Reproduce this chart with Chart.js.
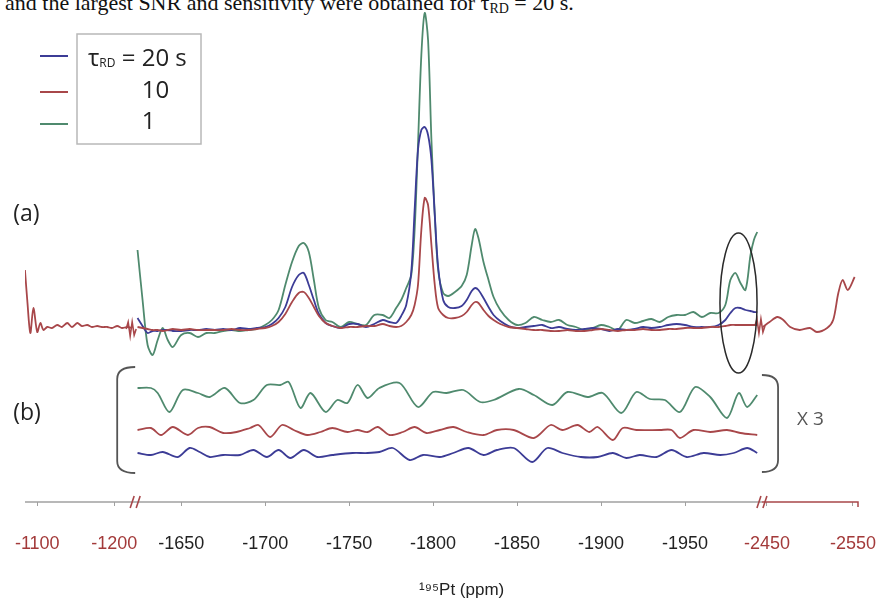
<!DOCTYPE html>
<html>
<head>
<meta charset="utf-8">
<script src="https://cdn.jsdelivr.net/npm/chart.js@4"></script>
<style>
  body { margin: 0; background: #fff; }
  #wrap { position: relative; width: 878px; height: 602px; overflow: hidden; }
  #cap { position: absolute; left: 5px; top: -8px; font: 22px "Liberation Serif", serif; color: #111; white-space: nowrap; line-height: 22px; }
  #cap sub { font-size: 14px; vertical-align: -3px; line-height: 0; }
  canvas { position: absolute; left: 0; top: 0; }
</style>
</head>
<body>
<div id="wrap">
  <div id="cap">and the largest SNR and sensitivity were obtained for τ<sub>RD</sub> = 20 s.</div>
  <canvas id="myChart" width="878" height="602"></canvas>
</div>
<script>
// legend labels (relaxation delay)
const seriesLabels = ['τRD = 20 s', '10', '1'];
const seriesColors = ['#3c3c96', '#a8474a', '#4f8a6e'];

// x tick labels, ppm (outer ones belong to the broken-off segments)
const tickPpm = [-1100, -1200, -1650, -1700, -1750, -1800, -1850, -1900, -1950, -2450, -2550];

// (a) spectra, main window
const ppmA = [-1624, -1627, -1630, -1633, -1636, -1639, -1642, -1645, -1650, -1655,
  -1660, -1665, -1670, -1675, -1680, -1685, -1690, -1695, -1700, -1704,
  -1708, -1712, -1716, -1720, -1723, -1726, -1729, -1732, -1736, -1740,
  -1745, -1750, -1755, -1760, -1765, -1770, -1774, -1778, -1781, -1784,
  -1787, -1789, -1791, -1793, -1795, -1797, -1799, -1801, -1803, -1806,
  -1809, -1813, -1817, -1820, -1823, -1825, -1827, -1830, -1833, -1836,
  -1840, -1845, -1850, -1855, -1860, -1865, -1870, -1875, -1880, -1885,
  -1890, -1895, -1900, -1905, -1910, -1915, -1920, -1925, -1930, -1935,
  -1940, -1945, -1950, -1955, -1960, -1965, -1970, -1974, -1977, -1980,
  -1983, -1986, -1989, -1991, -1993];
const blueA = [12, 4, -3, -1, -1, 0, 0, -1, -1, 0,
  0, 1, 0, 1, 0, 2, 1, 2, 3, 6,
  12, 23, 43, 55, 57, 45, 30, 16, 7, 4,
  2, 6, 6, 3, 6, 10, 8, 7, 14, 25,
  58, 120, 180, 200, 203, 195, 170, 115, 63, 30,
  23, 22, 24, 30, 39, 42, 40, 32, 23, 15,
  9, 4, 2, 3, 4, 5, 2, 3, 1, 0,
  1, 2, 1, -1, 1, 0, 1, 3, 2, 3,
  5, 6, 5, 3, 3, 3, 5, 10, 17, 22,
  22, 20, 19, 18, 18];
const redA = [3, 2, 1, 0, 0, -1, 0, 1, 0, 1,
  0, 0, 0, 0, 1, 0, 0, 1, 2, 4,
  8, 16, 28, 37, 38, 32, 23, 14, 7, 4,
  2, 3, 3, 4, 4, 6, 4, 3, 4, 8,
  15, 25, 45, 100, 132, 125, 85, 45, 22, 15,
  12, 12, 14, 18, 25, 28, 27, 20, 14, 10,
  6, 3, 2, 1, 0, 0, -1, -1, 0, -1,
  -1, 0, 1, 0, -1, 0, 0, 1, 0, 0,
  1, 1, 2, 2, 2, 3, 3, 4, 5, 5,
  5, 5, 5, 5, 5];
const greenA = [80, 30, -15, -25, -10, 2, -10, -17, -5, -3,
  -7, -3, -3, -1, 0, -1, 0, 1, 5, 10,
  20, 45, 68, 84, 87, 78, 50, 22, 10, 8,
  3, 8, 6, 5, 15, 15, 12, 22, 30, 42,
  55, 100, 185, 275, 317, 290, 190, 115, 60, 37,
  34, 38, 44, 55, 85, 101, 92, 68, 50, 33,
  20, 10, 5, 7, 13, 10, 8, 10, 5, 3,
  0, 2, 5, 3, 0, 10, 7, 9, 11, 8,
  13, 15, 15, 18, 13, 17, 17, 25, 50, 57,
  47, 40, 75, 90, 98];

// broken-off segments (10 s spectrum only)
const ppmLeft = [-1084, -1087, -1091, -1095, -1100, -1104, -1108, -1113, -1119, -1126,
  -1132, -1139, -1145, -1152, -1158, -1165, -1171, -1178, -1184, -1191,
  -1197, -1204, -1210, -1217, -1223];
const redLeft = [60, 30, -3, 22, -2, 7, 0, 3, 2, 5,
  3, 7, 3, 7, 4, 5, 3, 4, 3, 3,
  2, 4, 2, 3, 2];
const ppmRight = [-2445, -2453, -2462, -2469, -2477, -2488, -2500, -2508, -2520, -2527,
  -2533, -2538, -2544, -2552];
const redRight = [3, 8, 13, 10, 3, 0, 2, -2, 2, 10,
  37, 50, 40, 53];

// (b) noise traces, x 3
const ppmBGreen = [-1624, -1632, -1636, -1643, -1651, -1660, -1667, -1676, -1685, -1693,
  -1701, -1709, -1714, -1721, -1727, -1736, -1743, -1749, -1755, -1761,
  -1768, -1780, -1791, -1800, -1808, -1818, -1828, -1836, -1851, -1860,
  -1871, -1880, -1892, -1901, -1912, -1921, -1929, -1938, -1947, -1956,
  -1965, -1975, -1982, -1987, -1993];
const greenB = [-58, -58, -63, -82, -60, -63, -67, -58, -73, -70,
  -55, -55, -52, -78, -63, -82, -70, -73, -55, -68,
  -58, -53, -77, -62, -63, -60, -72, -70, -59, -65,
  -75, -62, -67, -63, -83, -62, -69, -70, -82, -57,
  -67, -88, -63, -77, -65];
const ppmBRed = [-1624, -1632, -1638, -1645, -1654, -1660, -1667, -1675, -1683, -1691,
  -1696, -1703, -1710, -1717, -1725, -1733, -1740, -1749, -1755, -1761,
  -1767, -1774, -1782, -1789, -1796, -1804, -1812, -1820, -1830, -1838,
  -1848, -1860, -1870, -1877, -1886, -1893, -1898, -1907, -1913, -1921,
  -1935, -1942, -1947, -1955, -1965, -1975, -1983, -1993];
const redB = [-100, -98, -105, -97, -105, -98, -97, -103, -102, -98,
  -95, -107, -95, -100, -105, -102, -98, -102, -100, -102,
  -97, -105, -102, -97, -103, -100, -97, -102, -105, -100,
  -100, -108, -95, -100, -95, -102, -97, -110, -98, -100,
  -100, -100, -108, -100, -102, -100, -103, -105];
const ppmBBlue = [-1624, -1632, -1639, -1648, -1655, -1661, -1667, -1675, -1685, -1693,
  -1701, -1708, -1715, -1723, -1731, -1740, -1752, -1761, -1768, -1776,
  -1786, -1794, -1804, -1812, -1821, -1830, -1838, -1848, -1859, -1868,
  -1877, -1888, -1898, -1907, -1915, -1923, -1933, -1942, -1951, -1961,
  -1971, -1979, -1987, -1993];
const blueB = [-123, -125, -122, -127, -118, -122, -127, -125, -125, -120,
  -127, -120, -128, -120, -127, -125, -123, -123, -122, -118,
  -130, -125, -127, -123, -118, -125, -120, -118, -132, -118,
  -123, -127, -127, -123, -128, -125, -127, -120, -127, -123,
  -125, -123, -118, -123];

// broken axis: main window in ppm, outer pieces squeezed next to it
function leftToAxis(p) { return -1564.3 + (p + 1100) * 0.4583; }
function rightToAxis(p) { return -1998.8 + (p + 2450) * 0.5119; }
function toAxis(p) {
    if (p > -1400) return leftToAxis(p);
    if (p < -2200) return rightToAxis(p);
    return p;
}
const breakLeft = -1622.6;
const breakRight = -1995.8;

function pts(xs, ys) {
    return xs.map((p, i) => ({x: toAxis(p), y: ys[i]}));
}
function line(xs, ys, color, label) {
    return {label: label || '', data: pts(xs, ys), borderColor: color, backgroundColor: color, fill: false};
}

function zigzag(ctx, cx, cy, color) {
    ctx.save();
    ctx.strokeStyle = color;
    ctx.lineWidth = 1.6;
    ctx.beginPath();
    ctx.moveTo(cx - 5, cy);
    ctx.lineTo(cx - 3, cy - 7);
    ctx.lineTo(cx - 1, cy + 7);
    ctx.lineTo(cx + 1, cy - 7);
    ctx.lineTo(cx + 3, cy + 6);
    ctx.lineTo(cx + 5, cy);
    ctx.stroke();
    ctx.restore();
}

const deco = {
    id: 'deco',
    afterDraw(chart) {
        const ctx = chart.ctx;
        const x = chart.scales.x, y = chart.scales.y;
        const base = chart.chartArea.bottom;
        const bl = x.getPixelForValue(breakLeft);
        const br = x.getPixelForValue(breakRight);

        // axis line, red after the right break
        ctx.save();
        ctx.lineWidth = 1.5;
        ctx.strokeStyle = '#a0a0a0';
        ctx.beginPath();
        ctx.moveTo(x.left, base); ctx.lineTo(br, base);
        ctx.stroke();
        ctx.strokeStyle = seriesColors[1];
        ctx.beginPath();
        ctx.moveTo(br, base); ctx.lineTo(x.right, base); ctx.lineTo(x.right, base + 5);
        ctx.stroke();
        // break marks on axis
        ctx.lineWidth = 1.6;
        [bl, br].forEach(px => {
            ctx.beginPath();
            ctx.moveTo(px - 5, base + 6); ctx.lineTo(px - 1, base - 6);
            ctx.moveTo(px + 1, base + 6); ctx.lineTo(px + 5, base - 6);
            ctx.stroke();
        });
        ctx.restore();

        // break marks on the 10 s trace
        zigzag(ctx, bl - 4, y.getPixelForValue(1), seriesColors[1]);
        zigzag(ctx, br - 2, y.getPixelForValue(4), seriesColors[1]);

        // circled region
        const ex0 = x.getPixelForValue(-1970.8), ex1 = x.getPixelForValue(-1992.9);
        const ey0 = y.getPixelForValue(97), ey1 = y.getPixelForValue(-43);
        ctx.save();
        ctx.strokeStyle = '#2a2a2a';
        ctx.lineWidth = 1.5;
        ctx.beginPath();
        ctx.ellipse((ex0 + ex1) / 2, (ey0 + ey1) / 2, Math.abs(ex1 - ex0) / 2, Math.abs(ey1 - ey0) / 2, 0, 0, Math.PI * 2);
        ctx.stroke();

        // brackets round (b)
        ctx.strokeStyle = '#555';
        ctx.lineWidth = 1.8;
        const la = x.getPixelForValue(-1622.6), lv = x.getPixelForValue(-1611.9);
        const lt = y.getPixelForValue(-37), lb = y.getPixelForValue(-143);
        ctx.beginPath();
        ctx.moveTo(la, lt);
        ctx.quadraticCurveTo(lv, lt, lv, lt + 12);
        ctx.lineTo(lv, lb - 12);
        ctx.quadraticCurveTo(lv, lb, la, lb);
        ctx.stroke();
        const ra = x.getPixelForValue(-1995.8), rv = x.getPixelForValue(-2005.4);
        const rt = y.getPixelForValue(-45), rb = y.getPixelForValue(-142);
        ctx.beginPath();
        ctx.moveTo(ra, rt);
        ctx.quadraticCurveTo(rv, rt, rv, rt + 12);
        ctx.lineTo(rv, rb - 12);
        ctx.quadraticCurveTo(rv, rb, ra, rb);
        ctx.stroke();

        // panel labels
        ctx.fillStyle = '#222';
        ctx.textBaseline = 'middle';
        ctx.textAlign = 'left';
        ctx.font = '23px "Open Sans"';
        ctx.fillText('(a)', x.getPixelForValue(-1550), y.getPixelForValue(116));
        ctx.fillText('(b)', x.getPixelForValue(-1550), y.getPixelForValue(-83));
        ctx.fillStyle = '#555';
        ctx.font = '19px "Open Sans"';
        ctx.fillText('X 3', x.getPixelForValue(-2016.7), y.getPixelForValue(-90));

        // axis title
        ctx.fillStyle = '#222';
        ctx.textAlign = 'center';
        ctx.font = '17px "Liberation Sans"';
        ctx.fillText('¹⁹⁵Pt (ppm)', x.getPixelForValue(-1817), 590);

        // legend
        ctx.textAlign = 'left';
        const rows = [56, 92, 124];
        seriesColors.forEach((c, i) => {
            ctx.strokeStyle = c;
            ctx.lineWidth = 2;
            ctx.beginPath();
            ctx.moveTo(40, rows[i]); ctx.lineTo(68, rows[i]);
            ctx.stroke();
        });
        ctx.strokeStyle = '#b8b8b8';
        ctx.lineWidth = 1.5;
        ctx.strokeRect(77, 34, 124, 110);
        ctx.fillStyle = '#222';
        ctx.font = '24px "Open Sans"';
        let tx = 88;
        ctx.fillText('τ', tx, 59);
        tx += ctx.measureText('τ').width;
        ctx.font = '12px "Open Sans"';
        ctx.fillText('RD', tx, 64);
        tx += ctx.measureText('RD').width;
        ctx.font = '24px "Open Sans"';
        ctx.fillText(' = ', tx, 59);
        tx += ctx.measureText(' = ').width;
        ctx.fillText('20 s', tx, 59);
        ctx.fillText(seriesLabels[1], tx, 91);
        ctx.fillText(seriesLabels[2], tx, 122);
        ctx.restore();
    }
};

const ctx = document.getElementById('myChart');
const myChart = new Chart(ctx, {
    type: 'line',
    data: {
        datasets: [
            line(ppmA, redA, seriesColors[1], seriesLabels[1]),
            line(ppmA, blueA, seriesColors[0], seriesLabels[0]),
            line(ppmA, greenA, seriesColors[2], seriesLabels[2]),
            line(ppmLeft, redLeft, seriesColors[1]),
            line(ppmRight, redRight, seriesColors[1]),
            line(ppmBGreen, greenB, seriesColors[2]),
            line(ppmBRed, redB, seriesColors[1]),
            line(ppmBBlue, blueB, seriesColors[0])
        ]
    },
    options: {
        responsive: false,
        animation: false,
        devicePixelRatio: 1,
        layout: {padding: {left: 25, right: 20, top: 0, bottom: 0}},
        elements: {
            point: {radius: 0},
            line: {borderWidth: 1.8, tension: 0.3}
        },
        plugins: {
            legend: {display: false},
            tooltip: {enabled: false}
        },
        scales: {
            x: {
                type: 'linear',
                reverse: true,
                min: -2053,
                max: -1557,
                afterBuildTicks: s => { s.ticks = tickPpm.map(p => ({value: toAxis(p)})); },
                afterFit: s => { s.height = 100; s.paddingLeft = 0; s.paddingRight = 0; },
                ticks: {
                    autoSkip: false,
                    maxRotation: 0,
                    padding: 27,
                    font: {family: 'Liberation Sans', size: 18},
                    color: c => (tickPpm[c.index] > -1400 || tickPpm[c.index] < -2200) ? '#a33a3a' : '#222',
                    callback: (v, i) => String(tickPpm[i])
                },
                grid: {drawOnChartArea: false, tickLength: 4, color: '#a0a0a0'},
                border: {display: false}
            },
            y: {display: false, min: -172, max: 330}
        }
    },
    plugins: [deco]
});
</script>
</body>
</html>
